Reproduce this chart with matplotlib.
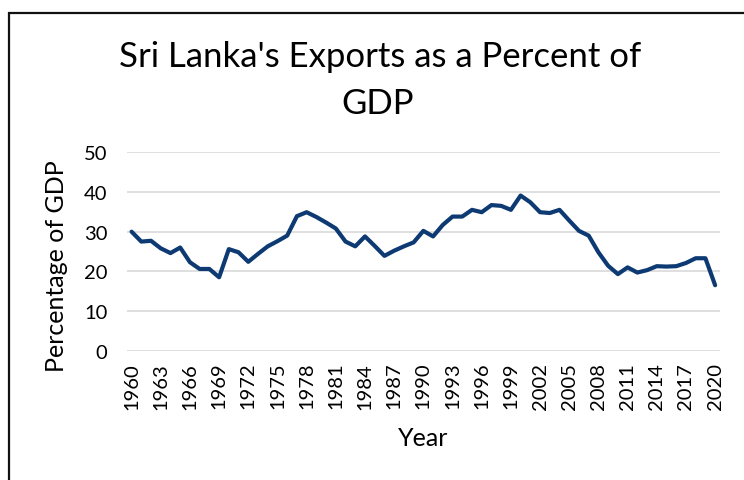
import matplotlib
matplotlib.use("Agg")
import matplotlib.pyplot as plt
from matplotlib.patches import Rectangle

years = list(range(1960, 2021))
exports_pct_gdp = [
    30.0, 27.5, 27.7, 25.8, 24.6, 26.0, 22.3, 20.6, 20.6, 18.5,
    25.6, 24.8, 22.4, 24.4, 26.3, 27.6, 29.0, 33.9, 34.9, 33.7,
    32.3, 30.8, 27.5, 26.3, 28.8, 26.4, 23.9, 25.2, 26.3, 27.3,
    30.2, 28.8, 31.7, 33.8, 33.8, 35.5, 34.9, 36.7, 36.5, 35.5,
    39.1, 37.4, 34.9, 34.7, 35.5, 32.8, 30.2, 29.0, 24.8, 21.4,
    19.3, 21.0, 19.7, 20.3, 21.3, 21.2, 21.3, 22.1, 23.3, 23.3,
    16.5,
]
y_ticks = [0, 10, 20, 30, 40, 50]
x_tick_years = years[::3]

plt.rcParams['font.family'] = ['Lato', 'DejaVu Sans']

W, H = 744, 481
fig = plt.figure(figsize=(W / 100, H / 100), dpi=100)

# outer chart frame (runs past the right and bottom edges of the canvas)
fig.add_artist(Rectangle((8.5 / W, -0.1), 1.2, 1.1 - 13.5 / H,
                         transform=fig.transFigure, fill=False,
                         edgecolor='#111111', linewidth=1.6))

ax = fig.add_axes([126.7 / W, 1 - 351.7 / H, (720 - 126.7) / W, (351.7 - 153.3) / H])
ax.plot(years, exports_pct_gdp, color='#0d3a72', linewidth=3.0,
        solid_joinstyle='round', solid_capstyle='round', zorder=3)

ax.set_xlim(1959.5, 2020.5)
ax.set_ylim(0, 50)
ax.set_yticks(y_ticks)
ax.set_xticks(x_tick_years)
ax.set_xticklabels([str(y) for y in x_tick_years], rotation=90)
ax.grid(axis='y', color='#d9d9d9', linewidth=1.2)
ax.set_axisbelow(True)
for s in ax.spines.values():
    s.set_visible(False)
ax.tick_params(axis='both', length=0, labelsize=14.5, colors='black')
ax.tick_params(axis='y', pad=14)
ax.tick_params(axis='x', pad=8)

fig.text(57 / W, 1 - 266 / H, 'Percentage of GDP', rotation=90,
         ha='center', va='center', fontsize=18)
fig.text(423 / W, 1 - 438 / H, 'Year', ha='center', va='center', fontsize=18)

fig.text(380 / W, 1 - 57 / H, "Sri Lanka's Exports as a Percent of",
         ha='center', va='center', fontsize=25)
fig.text(378 / W, 1 - 104 / H, "GDP", ha='center', va='center', fontsize=25)

fig.savefig('out.png', dpi=100)
